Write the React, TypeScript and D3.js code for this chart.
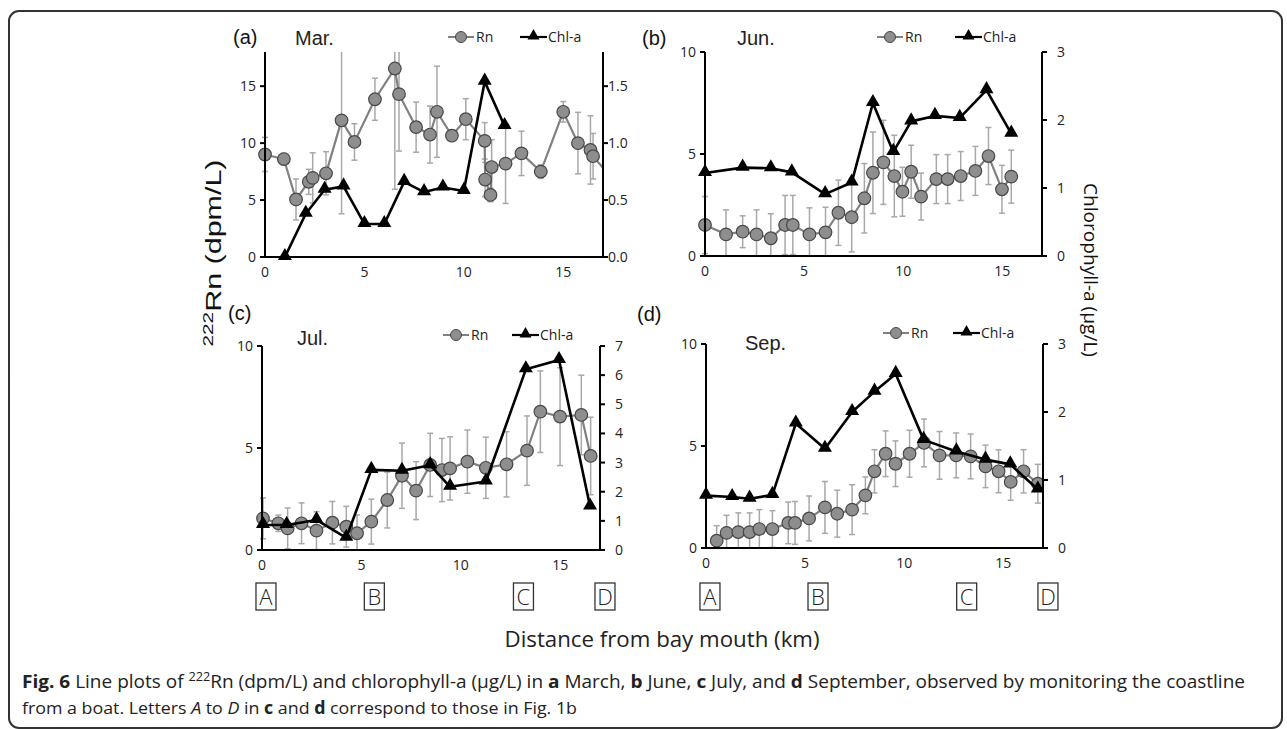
import React from 'react';
import * as d3 from 'd3';

const W = 1287;
const H = 729;

// ---- data (distance km, 222Rn dpm/L, error, chl-a ug/L) ----
const marDist = [0, 0.95, 1.56, 2.2, 2.4, 3.07, 3.85, 4.5, 5.53, 6.53, 6.74, 7.6, 8.3, 8.65, 9.4, 10.1, 11.05, 11.07, 11.34, 11.4, 12.1, 12.9, 13.87, 15.0, 15.74, 16.37, 16.5, 17.4];
const marRn = [9.0, 8.6, 5.05, 6.6, 6.95, 7.35, 12.0, 10.1, 13.85, 16.55, 14.3, 11.4, 10.75, 12.75, 10.65, 12.1, 10.2, 6.8, 5.45, 7.9, 8.2, 9.1, 7.5, 12.75, 10.0, 9.4, 8.85, 7.0];
const marRnErr = [1.5, 0.5, 1.8, 1.1, 2.2, 1.9, 8.2, 1.6, 1.85, 10.6, 5.0, 2.2, 2.5, 4.0, 0.5, 1.8, 1.6, 1.5, 0.6, 2.4, 3.5, 1.95, 0.6, 0.9, 2.7, 3.0, 2.0, 0];
const marChlDist = [1.0, 2.05, 3.0, 3.95, 5.0, 6.0, 7.0, 8.0, 8.95, 10.0, 11.05, 12.05];
const marChl = [0.0, 0.38, 0.59, 0.62, 0.29, 0.29, 0.66, 0.57, 0.61, 0.58, 1.54, 1.15];

const junDist = [0, 1.06, 1.9, 2.6, 3.32, 4.04, 4.43, 5.27, 6.08, 6.73, 7.4, 8.04, 8.47, 9.0, 9.55, 9.96, 10.4, 10.9, 11.67, 12.24, 12.9, 13.64, 14.3, 14.98, 15.45];
const junRn = [1.52, 1.06, 1.19, 1.06, 0.87, 1.52, 1.52, 1.06, 1.16, 2.12, 1.9, 2.83, 4.08, 4.59, 3.92, 3.15, 4.13, 2.91, 3.77, 3.77, 3.92, 4.17, 4.9, 3.27, 3.89];
const junRnErr = [1.4, 1.2, 0.78, 1.2, 1.2, 1.45, 1.45, 1.3, 1.23, 1.6, 1.7, 1.7, 2.0, 2.06, 2.0, 1.2, 1.3, 1.15, 1.2, 1.2, 1.2, 1.2, 1.4, 1.17, 1.3];
const junChlDist = [0, 1.9, 3.32, 4.38, 6.06, 7.4, 8.47, 9.5, 10.4, 11.6, 12.85, 14.2, 15.45];
const junChl = [1.22, 1.3, 1.29, 1.23, 0.91, 1.08, 2.25, 1.53, 1.98, 2.06, 2.03, 2.44, 1.8];

const julDist = [0.05, 0.82, 1.29, 1.99, 2.74, 3.54, 4.24, 4.78, 5.5, 6.3, 7.04, 7.75, 8.46, 9.05, 9.46, 10.33, 11.26, 12.3, 13.33, 14.0, 14.99, 16.06, 16.53];
const julRn = [1.55, 1.31, 1.06, 1.31, 0.95, 1.34, 1.14, 0.82, 1.39, 2.45, 3.64, 2.91, 4.17, 3.92, 4.0, 4.33, 4.03, 4.2, 4.87, 6.78, 6.54, 6.62, 4.61];
const julRnErr = [1.0, 0.4, 1.0, 1.0, 0.93, 1.04, 1.0, 0.9, 1.1, 1.37, 1.6, 1.42, 1.55, 1.55, 1.55, 1.55, 1.5, 1.6, 1.7, 2.0, 2.4, 1.95, 1.9];
const julChlDist = [0.05, 1.24, 2.74, 4.24, 5.5, 7.04, 8.46, 9.46, 11.26, 13.27, 14.94, 16.5];
const julChl = [0.86, 0.86, 1.03, 0.42, 2.75, 2.72, 2.91, 2.17, 2.35, 6.2, 6.52, 1.49];

const sepDist = [0.54, 1.04, 1.63, 2.2, 2.69, 3.35, 4.15, 4.49, 5.2, 6.0, 6.62, 7.37, 8.04, 8.5, 9.06, 9.56, 10.27, 11.0, 11.78, 12.62, 13.35, 14.1, 14.76, 15.37, 16.02, 16.74];
const sepRn = [0.36, 0.74, 0.78, 0.78, 0.93, 0.93, 1.23, 1.23, 1.45, 1.99, 1.68, 1.88, 2.58, 3.76, 4.62, 4.13, 4.62, 5.15, 4.54, 4.54, 4.49, 4.0, 3.76, 3.24, 3.76, 3.15];
const sepRnErr = [0.73, 0.86, 0.94, 0.94, 0.95, 0.9, 1.02, 1.05, 1.1, 1.27, 1.15, 1.22, 0.9, 1.06, 1.12, 1.12, 1.15, 1.17, 1.17, 1.1, 1.1, 1.04, 1.05, 0.9, 1.06, 0.95];
const sepChlDist = [0, 1.32, 2.2, 3.35, 4.53, 6.0, 7.37, 8.5, 9.57, 10.98, 12.63, 14.1, 15.35, 16.74];
const sepChl = [0.77, 0.75, 0.725, 0.78, 1.83, 1.46, 2.0, 2.3, 2.56, 1.59, 1.42, 1.3, 1.23, 0.86];

const xTicks = [0, 5, 10, 15];
const stationNames = ['A', 'B', 'C', 'D'];
const stationDist = [0.2, 5.65, 13.15, 17.25];

const TICK_FONT = "'Open Sans', 'DejaVu Sans', sans-serif";
const ARIAL = "'Liberation Sans', Arial, sans-serif";

type PanelCfg = {
  id: string;
  tag: string;
  month: string;
  left: number; right: number; top: number; bottom: number;
  yMax: number; yTicks: number[];
  y2Max: number; y2Ticks: number[]; y2Fmt: string; y2Off: number;
  dist: number[]; rn: number[]; err: number[];
  chlDist: number[]; chl: number[];
  tagX: number; tagY: number; monthX: number; monthY: number;
  legY: number; legRnX: number; legChlX: number;
  stations: boolean;
};

const panels: PanelCfg[] = [
  { id: 'a', tag: '(a)', month: 'Mar.', left: 265, right: 603, top: 52, bottom: 257,
    yMax: 18, yTicks: [0, 5, 10, 15], y2Max: 1.8, y2Ticks: [0, 0.5, 1, 1.5], y2Fmt: '.1f', y2Off: 5,
    dist: marDist, rn: marRn, err: marRnErr, chlDist: marChlDist, chl: marChl,
    tagX: 233, tagY: 44, monthX: 295, monthY: 45, legY: 37, legRnX: 448, legChlX: 520, stations: false },
  { id: 'b', tag: '(b)', month: 'Jun.', left: 705, right: 1042, top: 52, bottom: 256,
    yMax: 10, yTicks: [0, 5, 10], y2Max: 3, y2Ticks: [0, 1, 2, 3], y2Fmt: 'd', y2Off: 15,
    dist: junDist, rn: junRn, err: junRnErr, chlDist: junChlDist, chl: junChl,
    tagX: 642, tagY: 45, monthX: 737, monthY: 45, legY: 37, legRnX: 877, legChlX: 955, stations: false },
  { id: 'c', tag: '(c)', month: 'Jul.', left: 262, right: 600, top: 346, bottom: 550,
    yMax: 10, yTicks: [0, 5, 10], y2Max: 7, y2Ticks: [0, 1, 2, 3, 4, 5, 6, 7], y2Fmt: 'd', y2Off: 15,
    dist: julDist, rn: julRn, err: julRnErr, chlDist: julChlDist, chl: julChl,
    tagX: 228, tagY: 320, monthX: 297, monthY: 345, legY: 335, legRnX: 443, legChlX: 512, stations: true },
  { id: 'd', tag: '(d)', month: 'Sep.', left: 706, right: 1043, top: 344, bottom: 548,
    yMax: 10, yTicks: [0, 5, 10], y2Max: 3, y2Ticks: [0, 1, 2, 3], y2Fmt: 'd', y2Off: 15,
    dist: sepDist, rn: sepRn, err: sepRnErr, chlDist: sepChlDist, chl: sepChl,
    tagX: 637, tagY: 321, monthX: 745, monthY: 350, legY: 333, legRnX: 883, legChlX: 953, stations: true },
];

const RN_LINE = '#808080';
const RN_FILL = '#8e8e8e';
const RN_STROKE = '#474747';
const ERR = '#a8a8a8';
const tri = d3.symbol(d3.symbolTriangle, 85)() || '';

function Panel({ cfg }: { cfg: PanelCfg }) {
  const x = d3.scaleLinear().domain([0, 17]).range([cfg.left, cfg.right]);
  const y = d3.scaleLinear().domain([0, cfg.yMax]).range([cfg.bottom, cfg.top]);
  const y2 = d3.scaleLinear().domain([0, cfg.y2Max]).range([cfg.bottom, cfg.top]);
  const fmt2 = d3.format(cfg.y2Fmt);

  const rnPath = d3.line<number>().x((_, i) => x(cfg.dist[i])).y(d => y(d))(cfg.rn) || '';
  const chlPath = d3.line<number>().x((_, i) => x(cfg.chlDist[i])).y(d => y2(d))(cfg.chl) || '';
  const clipId = `clip-${cfg.id}`;

  return (
    <g>
      <defs>
        <clipPath id={clipId}>
          <rect x={cfg.left - 12} y={cfg.top} width={cfg.right - cfg.left + 12} height={cfg.bottom - cfg.top + 20} />
        </clipPath>
      </defs>

      <g clipPath={`url(#${clipId})`}>
        {/* error bars */}
        {cfg.rn.map((v, i) => {
          const e = cfg.err[i];
          if (!e) return null;
          const cx = x(cfg.dist[i]);
          const y0 = y(Math.max(0, v - e));
          const y1 = y(v + e);
          return (
            <g key={i} stroke={ERR} strokeWidth={1.5}>
              <line x1={cx} x2={cx} y1={y0} y2={y1} />
              <line x1={cx - 3} x2={cx + 3} y1={y1} y2={y1} />
              {v - e > 0 && <line x1={cx - 3} x2={cx + 3} y1={y0} y2={y0} />}
            </g>
          );
        })}
        <path d={rnPath} fill="none" stroke={RN_LINE} strokeWidth={2.2} />
        {cfg.rn.map((v, i) => (
          <circle key={i} cx={x(cfg.dist[i])} cy={y(v)} r={6.3} fill={RN_FILL} stroke={RN_STROKE} strokeWidth={1.2} />
        ))}
        <path d={chlPath} fill="none" stroke="#000" strokeWidth={2.6} strokeLinejoin="round" />
        {cfg.chl.map((v, i) => (
          <path key={i} d={tri} transform={`translate(${x(cfg.chlDist[i])},${y2(v) - 1})`} fill="#000" />
        ))}
      </g>

      {/* axes */}
      <g stroke="#000" strokeWidth={2} fill="none">
        <line x1={cfg.left} x2={cfg.left} y1={cfg.bottom} y2={cfg.top} />
        <line x1={cfg.right} x2={cfg.right} y1={cfg.bottom} y2={cfg.top} />
        <line x1={cfg.left} x2={cfg.right} y1={cfg.bottom} y2={cfg.bottom} />
        {cfg.yTicks.map(t => <line key={t} x1={cfg.left - 5} x2={cfg.left} y1={y(t)} y2={y(t)} />)}
        {cfg.y2Ticks.map(t => <line key={t} x1={cfg.right} x2={cfg.right + 5} y1={y2(t)} y2={y2(t)} />)}
      </g>
      <g fontFamily={TICK_FONT} fontSize={14} fill="#222">
        {cfg.yTicks.map(t => (
          <text key={t} x={cfg.left - 9} y={y(t) + 5} textAnchor="end">{t}</text>
        ))}
        {cfg.y2Ticks.map(t => (
          <text key={t} x={cfg.right + cfg.y2Off} y={y2(t) + 5}>{fmt2(t)}</text>
        ))}
        {xTicks.map(t => (
          <text key={t} x={x(t)} y={cfg.bottom + 20} textAnchor="middle">{t}</text>
        ))}
      </g>

      {/* titles */}
      <text x={cfg.tagX} y={cfg.tagY} fontFamily={ARIAL} fontSize={20} fill="#111">{cfg.tag}</text>
      <text x={cfg.monthX} y={cfg.monthY} fontFamily={ARIAL} fontSize={20} fill="#222">{cfg.month}</text>

      {/* legend */}
      <g>
        <line x1={cfg.legRnX} x2={cfg.legRnX + 26} y1={cfg.legY} y2={cfg.legY} stroke={RN_LINE} strokeWidth={2} />
        <circle cx={cfg.legRnX + 13} cy={cfg.legY} r={5.5} fill={RN_FILL} stroke={RN_STROKE} strokeWidth={1} />
        <text x={cfg.legRnX + 28} y={cfg.legY + 5} fontFamily={TICK_FONT} fontSize={14} fill="#222">Rn</text>
        <line x1={cfg.legChlX} x2={cfg.legChlX + 27} y1={cfg.legY} y2={cfg.legY} stroke="#000" strokeWidth={2.2} />
        <path d={tri} transform={`translate(${cfg.legChlX + 13.5},${cfg.legY - 1}) scale(0.85)`} fill="#000" />
        <text x={cfg.legChlX + 28} y={cfg.legY + 5} fontFamily={TICK_FONT} fontSize={14} fill="#222">Chl-a</text>
      </g>

      {/* station letters */}
      {cfg.stations && stationNames.map((s, i) => {
        const cx = x(stationDist[i]);
        return (
          <g key={s}>
            <rect x={cx - 10} y={583} width={20} height={27} fill="none" stroke="#333" strokeWidth={1.3} />
            <text x={cx} y={605} textAnchor="middle" fontFamily={TICK_FONT} fontSize={22} fontWeight={300} fill="#222">{s}</text>
          </g>
        );
      })}
    </g>
  );
}

export default function App() {
  return (
    <svg width={W} height={H} viewBox={`0 0 ${W} ${H}`}
      style={{ position: 'absolute', left: 0, top: 0, background: '#fff' }}>
      <rect x={0} y={0} width={W} height={H} fill="#fff" />
      <rect x={9} y={11} width={1273} height={717} rx={10} ry={10} fill="none" stroke="#333" strokeWidth={2} />

      {panels.map(p => <Panel key={p.id} cfg={p} />)}

      {/* shared axis titles */}
      <text transform="translate(221,253) rotate(-90)" textAnchor="middle" fontFamily={ARIAL} fontSize={22} fill="#111"
        textLength={187} lengthAdjust="spacingAndGlyphs">
        <tspan fontSize={15} dy={-8}>222</tspan><tspan dy={8}>Rn (dpm/L)</tspan>
      </text>
      <text transform="translate(1084,270) rotate(90)" textAnchor="middle" fontFamily={TICK_FONT} fontSize={19} fill="#111"
        textLength={174} lengthAdjust="spacingAndGlyphs">Chlorophyll-a (µg/L)</text>
      <text x={662} y={647} textAnchor="middle" fontFamily={TICK_FONT} fontSize={22} fill="#222"
        textLength={315} lengthAdjust="spacingAndGlyphs">Distance from bay mouth (km)</text>

      {/* caption */}
      <g fontFamily="'Liberation Sans Narrow', 'Open Sans', sans-serif" fontSize={18} fill="#222">
        <text x={22} y={688} textLength={1223} lengthAdjust="spacingAndGlyphs">
          <tspan fontWeight="bold">Fig. 6</tspan> Line plots of <tspan fontSize={12} dy={-7}>222</tspan><tspan dy={7}>Rn (dpm/L) and chlorophyll-a (µg/L) in </tspan>
          <tspan fontWeight="bold">a</tspan> March, <tspan fontWeight="bold">b</tspan> June, <tspan fontWeight="bold">c</tspan> July, and <tspan fontWeight="bold">d</tspan> September, observed by monitoring the coastline
        </text>
        <text x={22} y={714} fontSize={17} textLength={555} lengthAdjust="spacingAndGlyphs">
          from a boat. Letters <tspan fontStyle="italic">A</tspan> to <tspan fontStyle="italic">D</tspan> in <tspan fontWeight="bold">c</tspan> and <tspan fontWeight="bold">d</tspan> correspond to those in Fig. 1b
        </text>
      </g>
    </svg>
  );
}
